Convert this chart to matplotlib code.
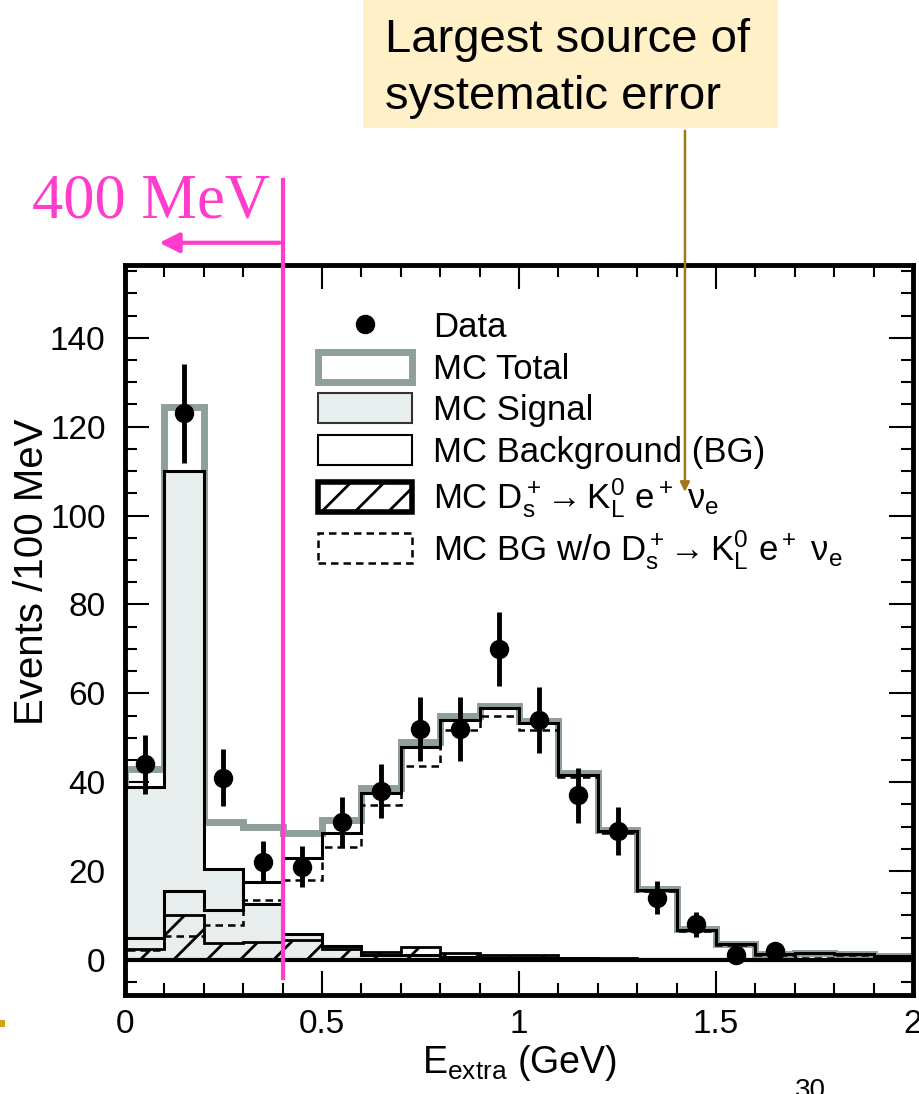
import numpy as np
import matplotlib
matplotlib.use("Agg")
from matplotlib import pyplot as plt
from matplotlib.lines import Line2D
from matplotlib.patches import Patch, Rectangle
from matplotlib.ticker import MultipleLocator

plt.rcParams['font.family'] = ['Liberation Sans', 'DejaVu Sans']
plt.rcParams['mathtext.fontset'] = 'custom'
plt.rcParams['mathtext.rm'] = 'Liberation Sans'
plt.rcParams['mathtext.it'] = 'Liberation Sans'
plt.rcParams['mathtext.bf'] = 'Liberation Sans:bold'
plt.rcParams['hatch.linewidth'] = 2.0

# 100 MeV bins from 0 to 2 GeV
edges = np.round(np.arange(0, 2.05, 0.1), 2)

# MC histograms (events / 100 MeV)
mc_total = [43, 124.5, 31, 30, 28.5, 31.4, 38.6, 49, 54.8, 57.2,
            53.8, 42.1, 29.2, 16, 7, 3.6, 1.3, 1.5, 1.3, 0.9]
mc_signal = [39, 110, 20.5, 12.5, 5.8, 3.2, 1.0, 1.0, 0.7, 0.5,
             0.4, 0.4, 0.2, 0.2, 0.1, 0.1, 0, 0, 0, 0]
mc_bg = [4.9, 15.4, 11.3, 17.6, 23, 28.6, 37.6, 47.9, 54, 56.6,
         53.4, 41.6, 29, 15.8, 6.8, 3.5, 1.3, 1.5, 1.3, 0.9]
mc_kl = [2.5, 10.2, 3.8, 4.1, 4.5, 2.5, 1.8, 2.8, 1.5, 1.2,
         1.0, 0.5, 0.4, 0.3, 0.2, 0.2, 0.2, 0.2, 0.2, 0.2]
mc_bg_nokl = [2.3, 5.3, 7.9, 13.5, 18, 25.5, 34.8, 43.6, 51.8, 54.8,
              51.7, 41.2, 28.6, 15.5, 6.6, 3.3, 1.1, 0.5, 1.1, 0.7]

# data points at bin centres
data_x = [0.05, 0.15, 0.25, 0.35, 0.45, 0.55, 0.65, 0.75, 0.85, 0.95,
          1.05, 1.15, 1.25, 1.35, 1.45, 1.55, 1.65]
data_y = [44, 123, 41, 22, 21, 31, 38, 52, 52, 70,
          54, 37, 29, 14, 8, 1, 2]
data_err = np.sqrt(data_y)

gray = '#8F9F9B'
sig_color = '#E8EDED'
pink = '#FF3CCB'
brown = '#A07818'

fig = plt.figure(figsize=(9.19, 10.94), dpi=100)
ax = fig.add_axes([0.136, 0.0905, 0.8575, 0.6673])

ax.stairs(mc_total, edges, color=gray, lw=5, zorder=2)
ax.stairs(mc_signal, edges, fill=True, facecolor=sig_color, edgecolor='black', lw=2.2, zorder=2.5)
ax.stairs(mc_kl, edges, fill=True, facecolor='none', edgecolor='black', hatch='/', lw=2, zorder=3)
ax.stairs(mc_bg_nokl, edges, color='black', lw=1.8, ls=(0, (3, 2)), zorder=3.5)
ax.stairs(mc_bg, edges, color='black', lw=2.2, zorder=4)
ax.axhline(0, color='black', lw=3, zorder=4)

ax.errorbar(data_x, data_y, yerr=data_err, fmt='o', color='black', ms=13,
            elinewidth=3.5, capsize=0, zorder=6)

ax.set_xlim(0, 2)
ax.set_ylim(-7.9, 156.4)
ax.xaxis.set_major_locator(MultipleLocator(0.5))
ax.xaxis.set_minor_locator(MultipleLocator(0.1))
ax.yaxis.set_major_locator(MultipleLocator(20))
ax.yaxis.set_minor_locator(MultipleLocator(5))
ax.set_xticks([0, 0.5, 1, 1.5, 2], ['0', '0.5', '1', '1.5', '2'])
ax.set_yticks([0, 20, 40, 60, 80, 100, 120, 140])
ax.tick_params(which='both', direction='in', top=True, right=True, width=1.5, labelsize=24)
ax.tick_params(which='major', length=17)
ax.tick_params(which='minor', length=8.5)
ax.tick_params(axis='y', pad=14)
ax.tick_params(axis='x', pad=10)
for s in ax.spines.values():
    s.set_linewidth(3.5)

ax.set_xlabel(r'$\mathrm{E_{extra}}$ (GeV)', fontsize=27, labelpad=2)
ax.set_ylabel('Events /100 MeV', fontsize=29, va='center')
ax.yaxis.set_label_coords(-0.118, 0.58)

handles = [Line2D([], [], marker='o', ls='none', color='black', ms=13),
           Patch(facecolor='white', edgecolor=gray, lw=5),
           Patch(facecolor=sig_color, edgecolor='#333333', lw=1.5),
           Patch(facecolor='white', edgecolor='black', lw=1.5),
           Patch(facecolor='white', edgecolor='black', hatch='/', lw=4),
           Patch(facecolor='white', edgecolor='black', ls=(0, (3, 2)), lw=1.8)]
labels = ['Data', 'MC Total', 'MC Signal', 'MC Background (BG)',
          r'MC $\mathrm{D_s^+\!\rightarrow K_L^0\ e^+\ \nu_e}$',
          r'MC BG w/o $\mathrm{D_s^+\!\rightarrow K_L^0\ e^+\ \nu_e}$']
ax.legend(handles, labels, loc='upper left', bbox_to_anchor=(0.245, 0.938),
          frameon=False, fontsize=25, handlelength=2.7, handleheight=0.95,
          handletextpad=0.6, labelspacing=0.22, borderpad=0, borderaxespad=0)

# 400 MeV cut
ax.plot([0.4, 0.4], [-4, 175.6], color=pink, lw=3, clip_on=False, zorder=7)
ax.annotate('', xy=(0.08, 161.4), xytext=(0.4, 161.4),
            arrowprops=dict(arrowstyle='-|>', color=pink, lw=3, mutation_scale=30),
            annotation_clip=False)
fig.text(32 / 919, 1 - 218 / 1094, '400 MeV', color=pink, fontsize=45,
         family=['Liberation Serif', 'DejaVu Serif'], va='baseline')

# callout box
fig.add_artist(Rectangle((363 / 919, 1 - 128 / 1094), (778 - 363) / 919, 130 / 1094,
                         transform=fig.transFigure, facecolor='#FFF0C8', edgecolor='none'))
fig.text(385 / 919, 1 - 18 / 1094, 'Largest source of\nsystematic error',
         fontsize=34, va='top', linespacing=1.38)
ax.annotate('', xy=(1.421, 104.7), xytext=(685 / 919, 1 - 128 / 1094),
            textcoords='figure fraction',
            arrowprops=dict(arrowstyle='-|>', color=brown, lw=1.8, mutation_scale=14),
            annotation_clip=False)

# slide leftovers
fig.add_artist(Rectangle((0, 1 - 1027 / 1094), 5 / 919, 7 / 1094,
                         transform=fig.transFigure, facecolor='#D4A017', edgecolor='none'))
fig.text(795 / 919, 1 - 1078 / 1094, '30', fontsize=20, va='top')

fig.savefig('out.png', dpi=100)
